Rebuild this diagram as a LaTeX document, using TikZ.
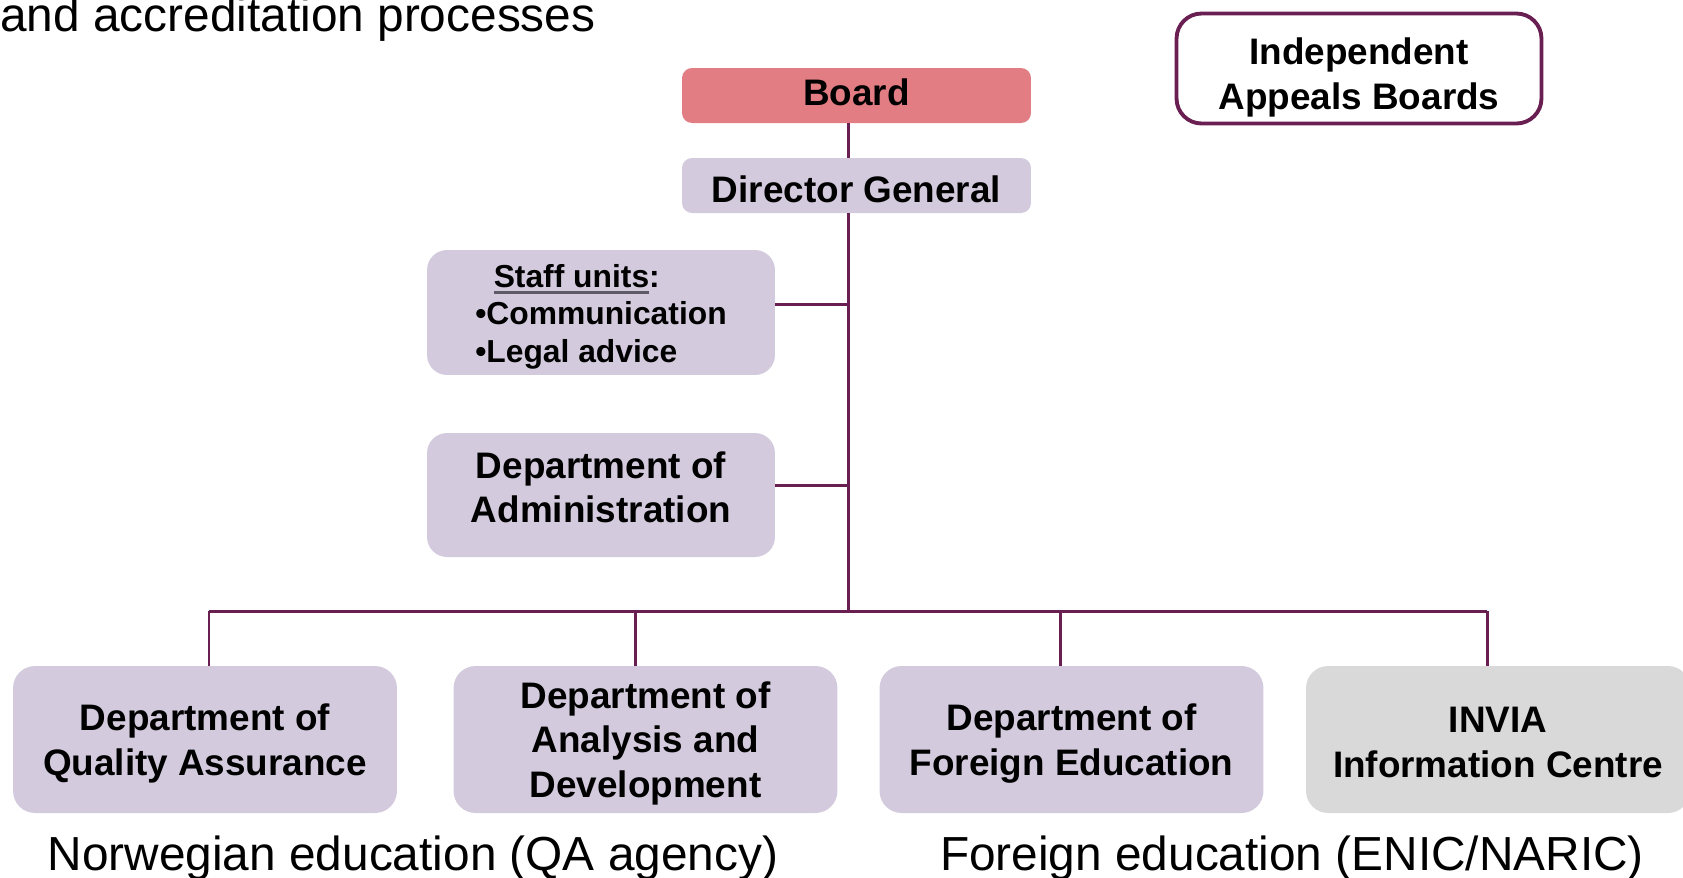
\documentclass[tikz,border=0pt]{standalone}
\usepackage{fontspec}
\setmainfont{Liberation Sans}
\usepackage{xcolor}
\usepackage{tikz}

\definecolor{lilac}{HTML}{D3CBDD}
\definecolor{rose}{HTML}{E17D83}
\definecolor{plum}{HTML}{6A1F52}
\definecolor{greybox}{HTML}{D9D9D9}
\definecolor{ulgrey}{HTML}{5E5A66}
\newcommand{\greyul}[1]{\setbox0\hbox{#1}\rlap{\color{ulgrey}\rule[-4pt]{\wd0}{1.7pt}}\box0}
\newcommand{\lift}[1]{\rule[-#1]{0pt}{#1}}
\newcommand{\sink}[1]{\rule{0pt}{#1}}

\begin{document}
\begin{tikzpicture}[x=0.02cm,y=-0.02cm,
    unit/.style={rounded corners=0.2cm, fill=lilac, inner sep=0pt, align=center,
        font=\fontsize{21}{25.5}\selectfont\bfseries},
    dept/.style={unit, rounded corners=0.44cm, minimum width=7.68cm, minimum height=2.94cm},
    link/.style={draw=plum, line width=1.7pt},
    caption/.style={anchor=base, font=\fontsize{27.2}{32}\selectfont}]
    \useasboundingbox (0,0) rectangle (1683,877);

    \node[anchor=base west, inner sep=0pt, font=\fontsize{27.2}{32}\selectfont] (title) at (0,31) {and accreditation processes};

    % top of the chart
    \node[unit, fill=rose, minimum width=6.98cm, minimum height=1.1cm] (board) at (856.5,95.5) {Board\lift{3.5pt}};
    \node[unit, minimum width=6.98cm, minimum height=1.1cm] (director) at (856.5,185.5) {\sink{19pt}Director General};
    \node[unit, fill=white, draw=plum, line width=2.2pt, rounded corners=0.5cm,
        minimum width=7.3cm, minimum height=2.2cm] (appeals) at (1359,68.5) {\sink{25pt}Independent\\Appeals Boards};

    % staff units and administration
    \node[unit, rounded corners=0.4cm, minimum width=6.96cm, minimum height=2.5cm, align=left,
        font=\fontsize{18.1}{21.6}\selectfont\bfseries] (staff) at (601,312.5)
        {\sink{18pt}\hspace{10.5pt}\greyul{Staff units}:\\•Communication\\•Legal advice};
    \node[unit, rounded corners=0.4cm, minimum width=6.96cm, minimum height=2.48cm] (admin) at (601,495) {Department of\\Administration\lift{9pt}};

    \coordinate (hub) at (848,611);
    \draw[link] (board.south -| hub) -- (director.north -| hub);
    \draw[link] (director.south -| hub) -- (hub);
    \draw[link] ([yshift=0.17cm]staff.east) -- ([yshift=0.17cm]staff.east -| hub);
    \draw[link] ([yshift=0.2cm]admin.east) -- ([yshift=0.2cm]admin.east -| hub);

    % departments
    \node[dept] (qa) at (205,739.5) {\sink{19.5pt}Department of\\Quality Assurance};
    \node[dept] (analysis) at (645.5,739.5) {\sink{19.5pt}Department of\\Analysis and\\Development};
    \node[dept] (foreign) at (1071.5,739.5) {\sink{19.5pt}Department of\\Foreign Education};
    \node[dept, fill=greybox] (invia) at (1498,739.5) {\sink{17.5pt}INVIA\\Information Centre};
    \coordinate (qatop) at (209,611);
    \coordinate (analysistop) at (635,611);
    \coordinate (foreigntop) at (1060,611);
    \coordinate (inviatop) at (1487,611);
    \foreach \nm in {qa, analysis, foreign, invia}
        \draw[link] (\nm top) -- (\nm top |- \nm.north);
    \draw[link] (qatop) -- (inviatop);

    \node[caption] (norwegian) at (413,870) {Norwegian education (QA agency)};
    \node[caption] (foreignedu) at (1292,870) {Foreign education (ENIC/NARIC)};
\end{tikzpicture}
\end{document}
